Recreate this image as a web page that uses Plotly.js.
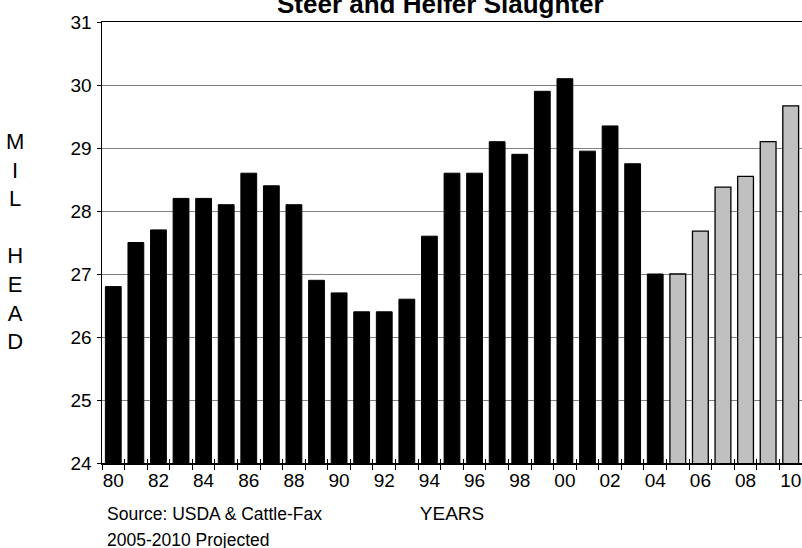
<!DOCTYPE html>
<html>
<head>
<meta charset="utf-8">
<script src="https://cdn.plot.ly/plotly-3.0.1.min.js"></script>
<style>html,body{margin:0;padding:0;background:#fff;}#chart{width:802px;height:548px;}</style>
</head>
<body>
<div id="chart"></div>
<script>
// Actual slaughter, 1980-2004 (million head)
const actualYears = [1980,1981,1982,1983,1984,1985,1986,1987,1988,1989,1990,1991,1992,1993,1994,1995,1996,1997,1998,1999,2000,2001,2002,2003,2004];
const actualValues = [26.8,27.5,27.7,28.2,28.2,28.1,28.6,28.4,28.1,26.9,26.7,26.4,26.4,26.6,27.6,28.6,28.6,29.1,28.9,29.9,30.1,28.95,29.35,28.75,27.0];
// Projected slaughter, 2005-2010
const projectedYears = [2005,2006,2007,2008,2009,2010];
const projectedValues = [27.0,27.68,28.38,28.55,29.1,29.67];
// Tick labels
const tickYears = [1980,1982,1984,1986,1988,1990,1992,1994,1996,1998,2000,2002,2004,2006,2008,2010];
const tickLabels = ['80','82','84','86','88','90','92','94','96','98','00','02','04','06','08','10'];

const FONT = '"Liberation Sans", Arial, sans-serif';

const traces = [
  {type:'bar', x:actualYears, y:actualValues, width:0.7, name:'Actual',
   marker:{color:'#000000', line:{color:'#000000', width:1}}, hoverinfo:'x+y'},
  {type:'bar', x:projectedYears, y:projectedValues, width:0.7, name:'Projected',
   marker:{color:'#c0c0c0', line:{color:'#000000', width:1.3}}, hoverinfo:'x+y'},
  {type:'scatter', x:[], y:[], xaxis:'x2', showlegend:false, hoverinfo:'skip'}
];

const layout = {
  width:802, height:548,
  margin:{l:102, r:0, t:22, b:85},
  paper_bgcolor:'#ffffff', plot_bgcolor:'#ffffff',
  showlegend:false,
  barmode:'overlay',
  font:{family:FONT, size:19, color:'#000000'},
  xaxis:{
    range:[1979.5, 2010.5], tickmode:'array', tickvals:tickYears, ticktext:tickLabels,
    ticks:'', showgrid:false, zeroline:false, ticklabeloverflow:'allow',
    showline:true, linecolor:'#000000', linewidth:1.5, mirror:true,
    tickfont:{family:FONT, size:19, color:'#000000'},
    minor:{ticks:'outside', tick0:1979.5, dtick:1, ticklen:5, tickcolor:'#000000', tickwidth:1, showgrid:false},
    title:{text:'YEARS', font:{family:FONT, size:19, color:'#000000'}, standoff:16}
  },
  xaxis2:{
    overlaying:'x', anchor:'y', side:'bottom', range:[1979.5, 2010.5],
    tickmode:'linear', tick0:1979.5, dtick:1, ticks:'inside', ticklen:4, tickcolor:'#000000', tickwidth:1,
    showticklabels:false, showgrid:false, zeroline:false, showline:false
  },
  yaxis:{
    range:[24,31], tickmode:'linear', tick0:24, dtick:1,
    ticks:'outside', ticklen:4, tickcolor:'#000000', tickwidth:1,
    showgrid:true, gridcolor:'#808080', gridwidth:1,
    zeroline:false, showline:true, linecolor:'#000000', linewidth:1.5,
    ticklabelstandoff:1,
    tickfont:{family:FONT, size:19, color:'#000000'}
  },
  annotations:[
    {text:'<b>Steer and Heifer Slaughter</b>', xref:'paper', yref:'paper', x:0.483, y:1,
     xanchor:'center', yanchor:'bottom', yshift:1, showarrow:false,
     font:{family:FONT, size:26, color:'#000000'}},
    {text:'M<br>I<br>L<br> <br>H<br>E<br>A<br>D', xref:'paper', yref:'paper', x:0, y:0.502,
     xanchor:'center', yanchor:'middle', xshift:-87, showarrow:false, align:'center',
     font:{family:FONT, size:22, color:'#000000'}},
    {text:'Source: USDA &amp; Cattle-Fax', xref:'paper', yref:'paper', x:0, y:0,
     xanchor:'left', yanchor:'top', xshift:3, yshift:-39, showarrow:false, align:'left',
     font:{family:FONT, size:17.5, color:'#000000'}},
    {text:'2005-2010 Projected', xref:'paper', yref:'paper', x:0, y:0,
     xanchor:'left', yanchor:'top', xshift:3, yshift:-65, showarrow:false, align:'left',
     font:{family:FONT, size:17.5, color:'#000000'}}
  ]
};

Plotly.newPlot('chart', traces, layout, {staticPlot:true, displayModeBar:false});
</script>
</body>
</html>
